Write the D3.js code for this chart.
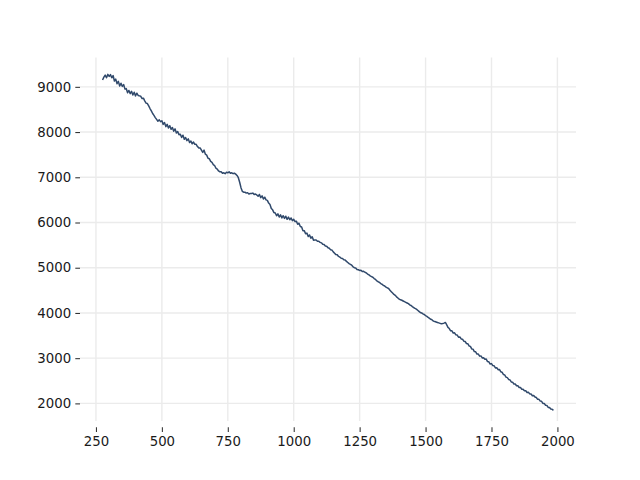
<!DOCTYPE html>
<html>
<head>
<meta charset="utf-8">
<script src="https://cdn.jsdelivr.net/npm/d3@7"></script>
<style>
  html, body { margin: 0; padding: 0; background: #ffffff; }
  svg { display: block; }
</style>
</head>
<body>
<svg id="chart" width="640" height="480"></svg>
<script>
// ---- data ----
const xStart = 275;
const xStep = 5;
const yValues = [
  9150, 9215, 9260, 9200, 9275,
  9230, 9270, 9200, 9250, 9130, 9170, 9070, 9120, 9020, 9080,
  9010, 9050, 8950, 8960, 8870, 8920, 8850, 8900, 8820, 8880,
  8800, 8860, 8810, 8800, 8790, 8740, 8750, 8690, 8640, 8630,
  8580, 8520, 8470, 8410, 8370, 8320, 8280, 8240, 8270, 8230,
  8250, 8170, 8210, 8120, 8170, 8090, 8140, 8060, 8100, 8020,
  8070, 7980, 8010, 7940, 7950, 7880, 7930, 7840, 7880, 7810,
  7850, 7770, 7800, 7740, 7780, 7730, 7730, 7680, 7650, 7650,
  7600, 7550, 7600, 7510, 7490, 7420, 7410, 7350, 7330, 7280,
  7260, 7200, 7180, 7140, 7120, 7120, 7090, 7100, 7080, 7110,
  7100, 7120, 7090, 7100, 7080, 7090, 7070, 7040, 6990, 6890,
  6770, 6690, 6670, 6670, 6650, 6660, 6630, 6640, 6640, 6650,
  6620, 6630, 6610, 6580, 6620, 6550, 6590, 6520, 6560, 6500,
  6490, 6430, 6400, 6310, 6280, 6220, 6210, 6150, 6190, 6120,
  6170, 6100, 6150, 6090, 6140, 6070, 6120, 6060, 6100, 6040,
  6070, 6020, 6030, 5960, 5985, 5910, 5900, 5820, 5820, 5750,
  5765, 5690, 5725, 5655, 5685, 5610, 5615, 5615, 5585, 5585,
  5560, 5550, 5520, 5515, 5480, 5475, 5440, 5430, 5395, 5390,
  5350, 5320, 5290, 5285, 5250, 5235, 5210, 5205, 5175, 5170,
  5140, 5115, 5090, 5075, 5055, 5020, 5000, 4995, 4960, 4955,
  4940, 4945, 4915, 4920, 4900, 4885, 4860, 4845, 4820, 4805,
  4790, 4760, 4740, 4710, 4690, 4675, 4650, 4635, 4610, 4595,
  4570, 4555, 4540, 4500, 4470, 4440, 4410, 4390, 4355, 4330,
  4305, 4290, 4280, 4265, 4250, 4235, 4220, 4205, 4180, 4165,
  4140, 4120, 4100, 4085, 4060, 4035, 4010, 4000, 3980, 3965,
  3940, 3925, 3900, 3880, 3860, 3845, 3820, 3810, 3800, 3790,
  3780, 3770, 3760, 3765, 3775, 3790, 3740, 3680, 3655, 3605,
  3605, 3555, 3560, 3515, 3510, 3465, 3470, 3425, 3420, 3375,
  3370, 3325, 3320, 3270, 3260, 3205, 3200, 3145, 3140, 3090,
  3090, 3045, 3050, 3005, 3010, 2975, 2980, 2925, 2920, 2870,
  2880, 2835, 2830, 2785, 2790, 2745, 2750, 2700, 2690, 2640,
  2630, 2580, 2570, 2530, 2520, 2475, 2470, 2430, 2430, 2390,
  2390, 2350, 2350, 2310, 2310, 2280, 2280, 2240, 2245, 2210,
  2210, 2170, 2175, 2140, 2130, 2090, 2090, 2050, 2045, 2000,
  2000, 1960, 1955, 1910, 1910, 1875, 1870, 1845
];
const xTickValues = [250, 500, 750, 1000, 1250, 1500, 1750, 2000];
const yTickValues = [2000, 3000, 4000, 5000, 6000, 7000, 8000, 9000];

const data = yValues.map((v, i) => ({ x: xStart + i * xStep, y: v }));

// ---- layout ----
const plotLeft = 80, plotRight = 576, plotTop = 57.6, plotBottom = 427.2;
const gridBottom = 421;

const svg = d3.select("#chart");

const xExt = d3.extent(data, d => d.x);
const yExt = d3.extent(data, d => d.y);
const xPad = (xExt[1] - xExt[0]) * 0.05;
const yPad = (yExt[1] - yExt[0]) * 0.05;

const x = d3.scaleLinear().domain([xExt[0] - xPad, xExt[1] + xPad]).range([plotLeft, plotRight]);
const y = d3.scaleLinear().domain([yExt[0] - yPad, yExt[1] + yPad]).range([plotBottom, plotTop]);

// grid
const grid = svg.append("g").attr("class", "grid");
grid.selectAll("line.vx").data(xTickValues).enter().append("line")
  .attr("x1", d => x(d)).attr("x2", d => x(d))
  .attr("y1", plotTop).attr("y2", gridBottom)
  .attr("stroke", "#ebebeb").attr("stroke-width", 1.4);
grid.selectAll("line.hy").data(yTickValues).enter().append("line")
  .attr("x1", plotLeft).attr("x2", plotRight)
  .attr("y1", d => y(d)).attr("y2", d => y(d))
  .attr("stroke", "#ebebeb").attr("stroke-width", 1.4);

// axes
const fontFamily = "'DejaVu Sans', sans-serif";
const xAxis = d3.axisBottom(x).tickValues(xTickValues).tickSize(4.7).tickPadding(4.2).tickFormat(d3.format("d"));
const yAxis = d3.axisLeft(y).tickValues(yTickValues).tickSize(4.7).tickPadding(4.2).tickFormat(d3.format("d"));

const gx = svg.append("g").attr("transform", `translate(0,${plotBottom})`).call(xAxis);
const gy = svg.append("g").attr("transform", `translate(${plotLeft},0)`).call(yAxis);
[gx, gy].forEach(g => {
  g.select(".domain").remove();
  g.selectAll(".tick line").attr("stroke", "#333333").attr("stroke-width", 1.07);
  g.selectAll(".tick text").attr("fill", "#1a1a1a")
    .style("font-family", fontFamily).style("font-size", "13.3px");
});

// line
const line = d3.line().x(d => x(d.x)).y(d => y(d.y));
svg.append("path").datum(data)
  .attr("d", line)
  .attr("fill", "none")
  .attr("stroke", "#30496b")
  .attr("stroke-width", 1.5)
  .attr("stroke-linejoin", "round");
</script>
</body>
</html>
